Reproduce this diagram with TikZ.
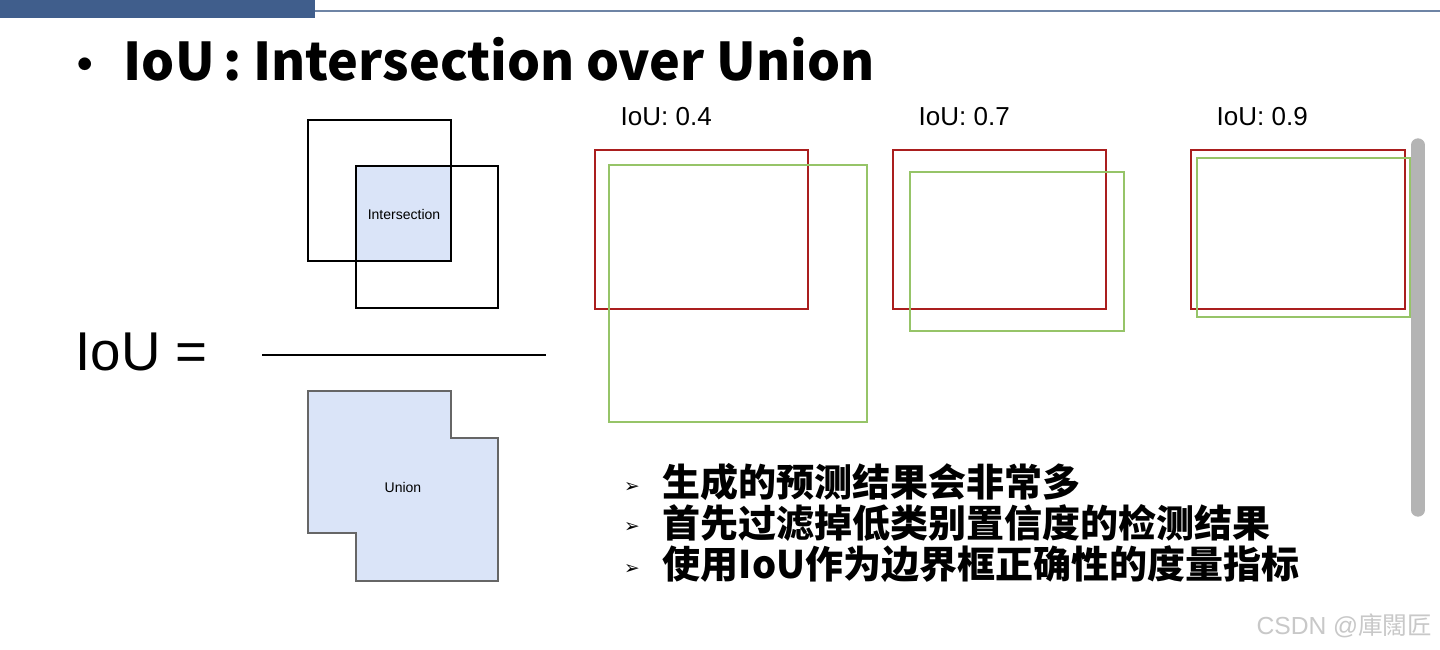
\documentclass[tikz,border=0pt]{standalone}
\usepackage{fontspec}
\setmainfont{Liberation Sans}
\newfontfamily\cjk{Noto Sans CJK SC}
\newfontfamily\symfont{DejaVu Sans}

\definecolor{barblue}{RGB}{64,94,140}
\definecolor{rulegray}{RGB}{110,132,165}
\definecolor{boxfill}{RGB}{218,228,248}
\definecolor{truthred}{RGB}{170,30,30}
\definecolor{predgreen}{RGB}{150,196,104}
\definecolor{scrollgray}{RGB}{180,180,180}
\definecolor{markgray}{RGB}{200,200,200}

\tikzset{
  plainbox/.style={draw=black, line width=1.4pt},
  redbox/.style={draw=truthred, line width=2pt},
  greenbox/.style={draw=predgreen, line width=2pt},
  caption/.style={anchor=base west, font=\fontsize{19.5}{19.5}\selectfont},
  bulletline/.style={anchor=base west, font=\cjk\bfseries\fontsize{28.5}{28.5}\selectfont},
  arrowbullet/.style={font=\symfont\fontsize{14}{14}\selectfont},
}

\begin{document}
\begin{tikzpicture}[x=0.75pt,y=-0.75pt]
\useasboundingbox[fill=white] (0,0) rectangle (1440,650);

% header band and rule
\fill[barblue] (0,0) rectangle (315,18);
\draw[rulegray, line width=1.5pt] (315,10.5) -- (1440,10.5);

% title
\node[font=\cjk\bfseries\fontsize{34}{34}\selectfont] (dot) at (85,70) {·};
\node[anchor=base west, font=\cjk\bfseries\fontsize{39}{39}\selectfont] (title) at (119,80) {IoU\,: Intersection over Union};

% intersection figure
\fill[boxfill] (356,166) rectangle (451,261);
\draw[plainbox] (308,120) rectangle (451,261);
\draw[plainbox] (356,166) rectangle (498,308);
\node[font=\fontsize{10.5}{10.5}\selectfont] (inter) at (404,214) {Intersection};

% fraction
\node[anchor=west, font=\fontsize{41}{41}\selectfont] (iou) at (71,352) {IoU =};
\coordinate (fracL) at (262,355);
\coordinate (fracR) at (546,355);
\draw[black, line width=1.1pt] (fracL) -- (fracR);

% union figure
\draw[fill=boxfill, draw=black!60, line width=1.2pt]
  (308,391) -- (451,391) -- (451,438) -- (498,438) -- (498,581)
  -- (356,581) -- (356,533) -- (308,533) -- cycle;
\node[font=\fontsize{10.5}{10.5}\selectfont] (union) at (403,487) {Union};

% IoU examples
\node[caption] (c4) at (616,125) {IoU: 0.4};
\draw[redbox] (595,150) rectangle (808,309);
\draw[greenbox] (609,165) rectangle (867,422);

\node[caption] (c7) at (914,125) {IoU: 0.7};
\draw[redbox] (893,150) rectangle (1106,309);
\draw[greenbox] (910,172) rectangle (1124,331);

\node[caption] (c9) at (1212,125) {IoU: 0.9};
\draw[redbox] (1191,150) rectangle (1405,309);
\draw[greenbox] (1197,158) rectangle (1410,317);

% scroll bar
\draw[scrollgray, line width=10pt, line cap=round] (1418,145) -- (1418,510);

% bullet list
\node[arrowbullet] (b1) at (632,488) {➢};
\node[arrowbullet] (b2) at (632,528) {➢};
\node[arrowbullet] (b3) at (632,570) {➢};
\node[bulletline] (t1) at (658,496) {生成的预测结果会非常多};
\node[bulletline] (t2) at (658,537) {首先过滤掉低类别置信度的检测结果};
\node[bulletline] (t3) at (658,578) {使用IoU作为边界框正确性的度量指标};

% watermark
\node[anchor=base east, text=markgray, font=\fontsize{18.5}{18.5}\selectfont] (mark) at (1437,634) {CSDN @{\cjk 庫闊匠}};
\end{tikzpicture}
\end{document}
